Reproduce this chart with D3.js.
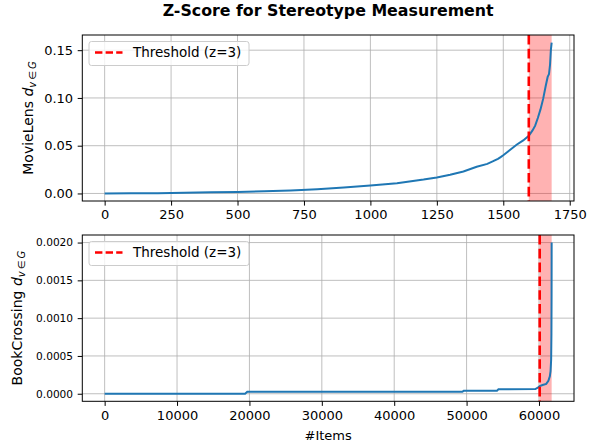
<!DOCTYPE html>
<html>
<head>
<meta charset="utf-8">
<script src="https://cdn.jsdelivr.net/npm/d3@7"></script>
<style>
  body { margin: 0; background: #fff; }
  text { font-family: "DejaVu Sans", sans-serif; fill: #000; }
</style>
</head>
<body>
<svg id="chart" width="603" height="448"></svg>
<script>
// MovieLens: sorted d values per item (index -> value)
const mlIdx = [0, 100, 200, 300, 400, 500, 600, 700, 800, 900, 1000, 1100, 1200, 1250, 1300, 1350,
  1400, 1440, 1460, 1480, 1490, 1500, 1525, 1550, 1575, 1596, 1610, 1620, 1630, 1640, 1650, 1660, 1667, 1672, 1676, 1679, 1682];
const mlVal = [0, 0.0001, 0.0003, 0.0008, 0.0012, 0.0015, 0.0022, 0.0031, 0.0044, 0.0062, 0.0083, 0.0108,
  0.0145, 0.0168, 0.0195, 0.0230, 0.0280, 0.0310, 0.0335, 0.0362, 0.0380, 0.0400, 0.0455, 0.0510, 0.0555, 0.0604,
  0.066, 0.071, 0.079, 0.088, 0.099, 0.113, 0.122, 0.125, 0.135, 0.150, 0.158];

// BookCrossing
const bxIdx = [0, 19400, 19700, 49400, 49600, 54200, 54400, 59500, 59900, 60100, 60500, 61000,
  61300, 61500, 61600, 61680, 61720, 61740, 61750];
const bxVal = [0, 0, 0.000025, 0.000025, 0.000038, 0.000040, 0.000058, 0.000062, 0.000085, 0.0001,
  0.000115, 0.00013, 0.00017, 0.00023, 0.00030, 0.00045, 0.0008, 0.0013, 0.0020];

const mlThreshold = 1596;
const bxThreshold = 60100;

const mlXTicks = [0, 250, 500, 750, 1000, 1250, 1500, 1750];
const mlYTicks = [0, 0.05, 0.10, 0.15];
const bxXTicks = [0, 10000, 20000, 30000, 40000, 50000, 60000];
const bxYTicks = [0, 0.0005, 0.0010, 0.0015, 0.0020];

const svg = d3.select("#chart");
const left = 82.3, right = 574;

svg.append("text")
  .attr("x", (left + right) / 2).attr("y", 16)
  .attr("text-anchor", "middle")
  .style("font-size", "15.8px").style("font-weight", "bold")
  .text("Z-Score for Stereotype Measurement");

function pad(ext) {
  const r = ext[1] - ext[0];
  return [ext[0] - 0.05 * r, ext[1] + 0.05 * r];
}

function panel(cfg) {
  const { top, bottom, idx, val, threshold, xTicks, yTicks, yFmt, yFont, name, yLabelX } = cfg;
  const x = d3.scaleLinear().domain(pad(d3.extent(idx))).range([left, right]);
  const y = d3.scaleLinear().domain(pad(d3.extent(val))).range([bottom, top]);
  const g = svg.append("g");

  // grid
  g.append("g").selectAll("line").data(xTicks).join("line")
    .attr("x1", d => x(d)).attr("x2", d => x(d)).attr("y1", top).attr("y2", bottom)
    .attr("stroke", "#b0b0b0").attr("stroke-width", 1).attr("opacity", 0.8);
  g.append("g").selectAll("line").data(yTicks).join("line")
    .attr("y1", d => y(d)).attr("y2", d => y(d)).attr("x1", left).attr("x2", right)
    .attr("stroke", "#b0b0b0").attr("stroke-width", 1).attr("opacity", 0.8);

  // shaded region past threshold
  const last = d3.max(idx);
  g.append("rect")
    .attr("x", x(threshold)).attr("width", x(last) - x(threshold))
    .attr("y", top).attr("height", bottom - top)
    .attr("fill", "red").attr("fill-opacity", 0.3);

  const line = d3.line().x((d, i) => x(idx[i])).y(d => y(d));
  g.append("path").datum(val)
    .attr("d", line).attr("fill", "none")
    .attr("stroke", "#1f77b4").attr("stroke-width", 2);

  g.append("line")
    .attr("x1", x(threshold)).attr("x2", x(threshold)).attr("y1", top).attr("y2", bottom)
    .attr("stroke", "red").attr("stroke-width", 2.6).attr("stroke-dasharray", "9.6,4.2");

  // axes
  const xAxis = d3.axisBottom(x).tickValues(xTicks).tickSize(4.6).tickPadding(4.6).tickFormat(d3.format("d"));
  const ax = g.append("g").attr("transform", `translate(0,${bottom})`).call(xAxis);
  ax.select(".domain").remove();
  ax.selectAll("text").style("font-size", "13px").attr("font-family", null);
  const yAxis = d3.axisLeft(y).tickValues(yTicks).tickSize(4.6).tickPadding(4.6).tickFormat(d3.format(yFmt));
  const ay = g.append("g").attr("transform", `translate(${left},0)`).call(yAxis);
  ay.select(".domain").remove();
  ay.selectAll("text").style("font-size", yFont).attr("font-family", null);
  g.selectAll(".tick line").attr("stroke", "#000").attr("stroke-width", 1);

  g.append("rect")
    .attr("x", left).attr("y", top).attr("width", right - left).attr("height", bottom - top)
    .attr("fill", "none").attr("stroke", "#000").attr("stroke-width", 1);

  // y label
  const lbl = g.append("text")
    .attr("transform", `translate(${yLabelX},${(top + bottom) / 2}) rotate(-90)`)
    .attr("text-anchor", "middle").style("font-size", "14px");
  lbl.append("tspan").text(name + " ");
  lbl.append("tspan").style("font-style", "italic").text("d");
  lbl.append("tspan").style("font-style", "italic").style("font-size", "10px")
    .attr("dy", 3).text("v\u2009\u2208\u2009G");

  // legend
  const lx = left + 6.7, ly = top + 6.5;
  const leg = g.append("g").attr("transform", `translate(${lx},${ly})`);
  leg.append("rect").attr("width", 160).attr("height", 24).attr("rx", 2.5)
    .attr("fill", "#fff").attr("fill-opacity", 0.8).attr("stroke", "#cccccc").attr("stroke-width", 1);
  leg.append("line").attr("x1", 6).attr("x2", 33.5).attr("y1", 11).attr("y2", 11)
    .attr("stroke", "red").attr("stroke-width", 2.6).attr("stroke-dasharray", "7.4,3.2");
  leg.append("text").attr("x", 44).attr("y", 15.5).style("font-size", "13.5px").text("Threshold (z=3)");
}

panel({ top: 35, bottom: 201, idx: mlIdx, val: mlVal, threshold: mlThreshold,
  xTicks: mlXTicks, yTicks: mlYTicks, yFmt: ".2f", yFont: "13px", name: "MovieLens", yLabelX: 33 });
panel({ top: 235, bottom: 401.3, idx: bxIdx, val: bxVal, threshold: bxThreshold,
  xTicks: bxXTicks, yTicks: bxYTicks, yFmt: ".4f", yFont: "10.6px", name: "BookCrossing", yLabelX: 22 });

svg.append("text")
  .attr("x", (left + right) / 2).attr("y", 440)
  .attr("text-anchor", "middle").style("font-size", "13px")
  .text("#Items");
</script>
</body>
</html>
